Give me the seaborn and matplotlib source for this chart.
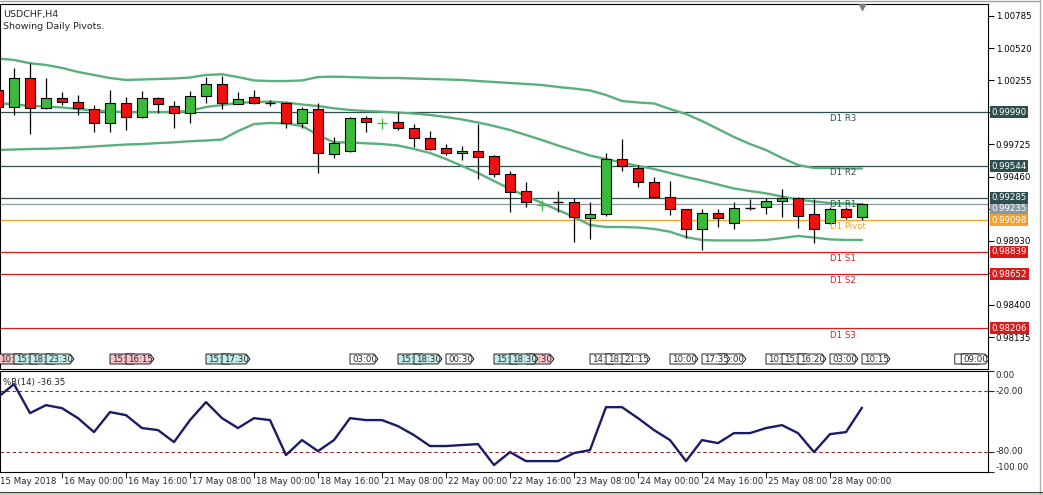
import numpy as np
import pandas as pd
import matplotlib
matplotlib.use("Agg")
import matplotlib.pyplot as plt
import seaborn as sns
from matplotlib.patches import Polygon
from matplotlib.transforms import blended_transform_factory

# ---------------- data ----------------
chart_title = "USDCHF,H4"
chart_subtitle = "Showing Daily Pivots."

opens = [1.00174, 1.00036, 1.00271, 1.00023, 1.00106, 1.00077, 1.00015, 0.99899, 1.00064, 0.99954,
         1.00106, 1.00044, 0.99982, 1.00127, 1.00221, 1.00059, 1.00114, 1.00063, 1.00064, 0.99899,
         1.00015, 0.99643, 0.99673, 0.99940, 0.99898, 0.99907, 0.99858, 0.99775, 0.99693, 0.99651,
         0.99668, 0.99629, 0.99480, 0.99340, 0.99224, 0.99249, 0.99247, 0.99115, 0.99148, 0.99602,
         0.99528, 0.99412, 0.99293, 0.99189, 0.99024, 0.99156, 0.99074, 0.99200, 0.99206, 0.99258,
         0.99280, 0.99148, 0.99074, 0.99189, 0.99128]
highs = [1.00191, 1.00358, 1.00395, 1.00276, 1.00160, 1.00133, 1.00050, 1.00174, 1.00119, 1.00166,
         1.00119, 1.00083, 1.00166, 1.00284, 1.00292, 1.00155, 1.00174, 1.00092, 1.00077, 1.00036,
         1.00064, 0.99789, 0.99954, 0.99962, 0.99943, 0.99995, 0.99891, 0.99836, 0.99728, 0.99712,
         0.99893, 0.99637, 0.99508, 0.99417, 0.99266, 0.99343, 0.99280, 0.99247, 0.99651, 0.99767,
         0.99555, 0.99458, 0.99425, 0.99195, 0.99192, 0.99192, 0.99247, 0.99272, 0.99280, 0.99354,
         0.99288, 0.99272, 0.99211, 0.99208, 0.99239]
lows = [1.00025, 0.99968, 0.99811, 1.00020, 1.00050, 0.99968, 0.99830, 0.99830, 0.99844, 0.99940,
        0.99982, 0.99858, 0.99899, 1.00064, 1.00017, 1.00055, 1.00056, 1.00042, 0.99858, 0.99858,
        0.99486, 0.99615, 0.99665, 0.99830, 0.99852, 0.99844, 0.99706, 0.99679, 0.99637, 0.99596,
        0.99437, 0.99458, 0.99169, 0.99206, 0.99178, 0.99169, 0.98922, 0.98941, 0.99134, 0.99508,
        0.99376, 0.99290, 0.99142, 0.98955, 0.98853, 0.99046, 0.99024, 0.99183, 0.99148, 0.99123,
        0.99032, 0.98908, 0.99070, 0.99112, 0.99101]
closes = [1.00036, 1.00271, 1.00023, 1.00106, 1.00077, 1.00028, 0.99899, 1.00064, 0.99954, 1.00106,
          1.00056, 0.99982, 1.00127, 1.00221, 1.00064, 1.00097, 1.00069, 1.00063, 0.99899, 1.00015,
          0.99651, 0.99734, 0.99940, 0.99907, 0.99899, 0.99858, 0.99775, 0.99687, 0.99651, 0.99670,
          0.99623, 0.99478, 0.99334, 0.99247, 0.99225, 0.99249, 0.99123, 0.99148, 0.99602, 0.99547,
          0.99412, 0.99293, 0.99189, 0.99024, 0.99156, 0.99115, 0.99197, 0.99200, 0.99258, 0.99280,
          0.99136, 0.99024, 0.99189, 0.99128, 0.99235]

bb_upper = [1.00434, 1.00422, 1.00395, 1.00381, 1.00356, 1.00323, 1.00298, 1.00273, 1.00257, 1.00261,
            1.00265, 1.00269, 1.00277, 1.00298, 1.00304, 1.00281, 1.00253, 1.00248, 1.00248, 1.00253,
            1.00281, 1.00284, 1.00281, 1.00277, 1.00273, 1.00273, 1.00269, 1.00265, 1.00261, 1.00257,
            1.00248, 1.00240, 1.00232, 1.00224, 1.00215, 1.00199, 1.00186, 1.00170, 1.00133, 1.00083,
            1.00071, 1.00063, 1.00017, 0.99976, 0.99918, 0.99852, 0.99786, 0.99728, 0.99679, 0.99613,
            0.99555, 0.99530, 0.99530, 0.99526, 0.99526]
bb_middle = [1.00067, 1.00054, 1.00044, 1.00038, 1.00030, 1.00017, 1.00005, 0.99997, 0.99992, 0.99992,
             0.99992, 0.99992, 1.00001, 1.00034, 1.00050, 1.00067, 1.00075, 1.00078, 1.00071, 1.00054,
             1.00042, 1.00023, 1.00009, 1.00001, 0.99995, 0.99988, 0.99980, 0.99968, 0.99951, 0.99931,
             0.99906, 0.99877, 0.99844, 0.99803, 0.99761, 0.99716, 0.99675, 0.99633, 0.99604, 0.99576,
             0.99547, 0.99522, 0.99489, 0.99456, 0.99427, 0.99394, 0.99361, 0.99340, 0.99321, 0.99295,
             0.99270, 0.99254, 0.99241, 0.99237, 0.99230]
bb_lower = [0.99679, 0.99683, 0.99687, 0.99689, 0.99693, 0.99699, 0.99708, 0.99716, 0.99724, 0.99728,
            0.99736, 0.99742, 0.99751, 0.99757, 0.99765, 0.99835, 0.99893, 0.99902, 0.99898, 0.99877,
            0.99803, 0.99742, 0.99741, 0.99734, 0.99728, 0.99716, 0.99687, 0.99654, 0.99604, 0.99547,
            0.99489, 0.99423, 0.99357, 0.99299, 0.99241, 0.99183, 0.99126, 0.99060, 0.99043, 0.99043,
            0.99039, 0.99027, 0.99004, 0.98960, 0.98936, 0.98932, 0.98932, 0.98932, 0.98936, 0.98952,
            0.98969, 0.98956, 0.98941, 0.98936, 0.98936]

wpr_values = [-25.9, -13.0, -41.7, -33.8, -36.8, -46.7, -60.5, -40.7, -43.7, -56.5,
              -58.5, -70.4, -48.6, -30.8, -46.7, -56.5, -46.7, -48.6, -83.2, -68.4,
              -79.3, -68.4, -46.7, -48.6, -48.6, -54.6, -63.5, -74.3, -74.3, -73.3,
              -72.4, -93.1, -80.3, -89.2, -89.2, -89.2, -81.3, -78.3, -35.8, -35.8,
              -46.7, -58.5, -68.4, -89.2, -68.4, -71.4, -61.5, -61.5, -56.5, -53.6,
              -61.5, -80.3, -62.5, -60.5, -36.35]
wpr_title = "%R(14) -36.35"
wpr_ticks = [0.0, -20.0, -80.0, -100.0]
wpr_levels = [-20.0, -80.0]

pivot_names = ["D1 R3", "D1 R2", "D1 R1", "D1 Pivot", "D1 S1", "D1 S2", "D1 S3"]
pivot_values = [0.99990, 0.99544, 0.99285, 0.99098, 0.98839, 0.98652, 0.98206]
pivot_kind = ["R", "R", "R", "P", "S", "S", "S"]
bid_price = 0.99235

price_ticks = [1.00785, 1.00520, 1.00255, 0.99990, 0.99725, 0.99460, 0.99195,
               0.98930, 0.98665, 0.98400, 0.98135]
price_tick_labels = ["1.00785", "1.00520", "1.00255", "", "0.99725", "0.99460", "",
                     "0.98930", "", "0.98400", "0.98135"]

time_tick_index = [4, 8, 12, 16, 20, 24, 28, 32, 36, 40, 44, 48, 52]
time_tick_labels = ["16 May 00:00", "16 May 16:00", "17 May 08:00", "18 May 00:00",
                    "18 May 16:00", "21 May 08:00", "22 May 00:00", "22 May 16:00",
                    "23 May 08:00", "24 May 00:00", "24 May 16:00", "25 May 08:00",
                    "28 May 00:00"]
first_time_label = "15 May 2018"

# event labels (drawing order); texts starting with ":" are partly hidden labels
event_index = [0, 1, 2, 3, 7, 8, 13, 14, 22, 25, 26, 28, 33, 31, 32,
               37, 38, 39, 42, 45, 44, 48, 49, 50, 52, 54, 59.8, 60.2]
event_text = ["10:", "15:", "18:", "23:30", "15:", "16:15", "15:", "17:30", "03:00",
              "15:", "18:30", "00:30", ":30", "15:", "18:30",
              "14:", "18:", "21:15", "10:00", ":00", "17:35", "10:", "15:", "16:20",
              "03:00", "10:15", "", "09:00"]
event_kind = ["pink", "cyan", "cyan", "cyan", "pink", "pink", "cyan", "cyan", "white",
              "cyan", "cyan", "white", "pink", "cyan", "cyan",
              "white", "white", "white", "white", "white", "white", "white", "white", "white",
              "white", "white", "white", "white"]

# ---------------- style ----------------
sns.set_style("white")
plt.rcParams["font.family"] = ["DejaVu Sans"]
plt.rcParams["axes.linewidth"] = 0.8

UP = "#3cb93c"
DOWN = "#f01010"
BAND = "#5aaf7c"
R_COL = "#2f4f4f"
P_COL = "#f0a030"
S_COL = "#d81c1c"
BID_COL = "#8a98a4"
WPR_COL = "#1b1b66"
LVL_COL = "#8b2a2a"
FS = 6.2

W, H = 1043, 495
fig = plt.figure(figsize=(W / 100, H / 100), dpi=100)
fig.patch.set_facecolor("white")


def pix_axes(l, t, r, b):
    return [l / W, 1 - b / H, (r - l) / W, (b - t) / H]


ax = fig.add_axes(pix_axes(0, 4, 988, 369))
ax2 = fig.add_axes(pix_axes(0, 371, 988, 472))

n = len(closes)
idx = np.arange(n)
df = pd.DataFrame({"i": idx, "open": opens, "high": highs, "low": lows, "close": closes,
                   "upper": bb_upper, "middle": bb_middle, "lower": bb_lower, "wpr": wpr_values})

XL = (0.125, 61.875)
YL = (0.97871, 1.00884)

# ---------------- main panel ----------------
for col in ["upper", "middle", "lower"]:
    sns.lineplot(data=df, x="i", y=col, ax=ax, color=BAND, lw=1.7, zorder=2)

# candles
for i, o, h, l, c in zip(idx, opens, highs, lows, closes):
    if abs(c - o) < 0.000015:
        col = UP if c > o else "black"
        ax.vlines(i, l, h, color=col, lw=0.9, zorder=3)
        ax.hlines((o + c) / 2, i - 0.3, i + 0.3, color=col, lw=1.0, zorder=3)
        continue
    ax.vlines(i, l, h, color="black", lw=0.9, zorder=3)
    ax.bar(i, abs(c - o), bottom=min(o, c), width=0.6,
           color=UP if c > o else DOWN, edgecolor="black", lw=0.8, zorder=4)

# level lines
col_map = {"R": R_COL, "P": P_COL, "S": S_COL}
ax.axhline(bid_price, color=BID_COL, lw=0.9, zorder=1)
for name, v, k in zip(pivot_names, pivot_values, pivot_kind):
    ax.axhline(v, color=col_map[k], lw=0.9, zorder=1)
    ax.annotate(name, xy=(52, v), xytext=(0, -1.5), textcoords="offset points",
                ha="left", va="top", fontsize=FS, color=col_map[k], zorder=6)

ax.set_xlim(*XL)
ax.set_ylim(*YL)
ax.set_xlabel("")
ax.set_ylabel("")
ax.set_xticks([])
ax.yaxis.tick_right()
ax.set_yticks(price_ticks)
ax.set_yticklabels(price_tick_labels, fontsize=FS)
ax.tick_params(axis="y", direction="out", length=4, width=0.8, pad=1.5, colors="black", right=True)
for s in ax.spines.values():
    s.set_color("black")
    s.set_linewidth(0.8)

# price boxes on the right axis (the R1 box partly covers the bid box, as in the terminal)
ytr = blended_transform_factory(ax.transAxes, ax.transData)
ax.text(1.0035, bid_price, f"{bid_price:.5f}", transform=ytr, ha="left", va="top",
        fontsize=FS, color="white", zorder=20, clip_on=False,
        bbox=dict(boxstyle="square,pad=0.12", fc=BID_COL, ec="none"))
for v, k in zip(pivot_values, pivot_kind):
    ax.text(1.0035, v, f"{v:.5f}", transform=ytr, ha="left", va="center",
            fontsize=FS, color="white", zorder=21, clip_on=False,
            bbox=dict(boxstyle="square,pad=0.18", fc=col_map[k], ec="none"))

# title texts
ax.text(0.003, 0.984, chart_title, transform=ax.transAxes, fontsize=6.8, va="top", ha="left")
ax.text(0.003, 0.950, chart_subtitle, transform=ax.transAxes, fontsize=6.8, va="top", ha="left")

# shift marker
ax.plot([n - 1], [0.992], marker="v", color="#7a7f8a", ms=5,
        transform=blended_transform_factory(ax.transData, ax.transAxes), clip_on=False, zorder=10)

# event labels
etr = blended_transform_factory(ax.transData, ax.transAxes)
fills = {"pink": "#f6c3cb", "cyan": "#c6ecea", "white": "white"}
yb, yt = (369 - 364) / 365, (369 - 354) / 365
ym = (yb + yt) / 2
for z, (i, t, k) in enumerate(zip(event_index, event_text, event_kind)):
    zz = 7 + z * 0.02
    x1 = i + 1.5
    poly = Polygon([(i, yb), (i, yt), (x1, yt), (x1 + 0.25, ym), (x1, yb)], closed=True,
                   transform=etr, fc=fills[k], ec="black", lw=0.6, zorder=zz)
    ax.add_patch(poly)
    if t.startswith(":"):
        ax.text(x1 + 0.1, ym, t, transform=etr, fontsize=FS, ha="right", va="center",
                zorder=zz + 0.01, clip_on=True)
    else:
        ax.text(i + 0.12, ym, t, transform=etr, fontsize=FS, ha="left", va="center",
                zorder=zz + 0.01, clip_on=True)

# ---------------- %R panel ----------------
sns.lineplot(data=df, x="i", y="wpr", ax=ax2, color=WPR_COL, lw=1.7, zorder=3)
for lv in wpr_levels:
    ax2.axhline(lv, color=LVL_COL, lw=0.8, ls=(0, (3, 2.5)), zorder=1)
ax2.set_xlim(*XL)
ax2.set_ylim(-100, 0)
ax2.set_xlabel("")
ax2.set_ylabel("")
ax2.yaxis.tick_right()
ax2.set_yticks(wpr_ticks)
ax2.set_yticklabels([])
ax2.tick_params(axis="y", direction="out", length=4, width=0.8, right=True)
vaa = {0.0: "top", -20.0: "center", -80.0: "center", -100.0: "bottom"}
ytr2 = blended_transform_factory(ax2.transAxes, ax2.transData)
for v in wpr_ticks:
    ax2.text(1.0075, v, f"{v:.2f}", transform=ytr2, ha="left", va=vaa[v], fontsize=FS, clip_on=False)
ax2.text(0.003, 0.93, wpr_title, transform=ax2.transAxes, fontsize=FS, ha="left", va="top")

ax2.set_xticks(time_tick_index)
ax2.set_xticklabels([])
ax2.tick_params(axis="x", direction="out", length=4, width=0.8, bottom=True)
xtr = blended_transform_factory(ax2.transData, ax2.transAxes)
for i, lab in zip(time_tick_index, time_tick_labels):
    ax2.text(i + 0.1, -0.09, lab, transform=xtr, fontsize=FS, ha="left", va="center", clip_on=False)
ax2.text(XL[0], -0.09, first_time_label, transform=xtr, fontsize=FS, ha="left", va="center", clip_on=False)
for s in ax2.spines.values():
    s.set_color("black")
    s.set_linewidth(0.8)

# window frame
fig.add_artist(plt.Line2D([0, 1040 / W], [1 - 1 / H, 1 - 1 / H], color="#a0a0a0", lw=1))
fig.add_artist(plt.Line2D([1040 / W, 1040 / W], [0, 1], color="#b0b0b0", lw=1))
fig.add_artist(plt.Rectangle((0, 0), 1, 3 / H, color="#d4d0c8", lw=0))
fig.add_artist(plt.Line2D([0, 1], [3 / H, 3 / H], color="#404040", lw=0.8))

fig.savefig("out.png", dpi=100)
